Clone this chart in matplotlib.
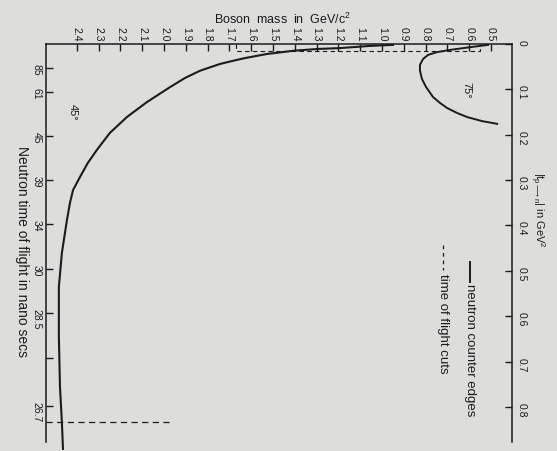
import numpy as np
import matplotlib.pyplot as plt

plt.rcParams['font.family'] = ['Liberation Sans', 'DejaVu Sans']
plt.rcParams['mathtext.fontset'] = 'custom'
plt.rcParams['mathtext.rm'] = 'Liberation Sans'
plt.rcParams['mathtext.it'] = 'Liberation Sans'

ink = '#1b1b1b'

# neutron counter edges: boson mass (GeV/c^2) vs |t| (GeV^2)
mass_45 = [0.95, 1.05, 1.193, 1.298, 1.408, 1.528, 1.628, 1.683, 1.743, 1.835,
           1.904, 1.972, 2.078, 2.170, 2.248, 2.307, 2.349, 2.385, 2.417, 2.431,
           2.445, 2.468, 2.482, 2.482, 2.477, 2.468, 2.463]
t_45 = [0.002, 0.004, 0.009, 0.011, 0.015, 0.022, 0.031, 0.037, 0.044, 0.059,
        0.075, 0.095, 0.128, 0.161, 0.196, 0.233, 0.262, 0.293, 0.322, 0.350,
        0.388, 0.460, 0.535, 0.645, 0.755, 0.835, 0.894]

mass_75 = [0.514, 0.596, 0.688, 0.748, 0.789, 0.812, 0.826, 0.826, 0.817, 0.798,
           0.766, 0.734, 0.702, 0.656, 0.610, 0.541, 0.472]
t_75 = [0.002, 0.007, 0.013, 0.018, 0.024, 0.033, 0.046, 0.059, 0.077, 0.095,
        0.117, 0.130, 0.141, 0.152, 0.161, 0.170, 0.176]

# time of flight cuts
cut_lo_mass = [1.67, 1.67, 0.55, 0.55]
cut_lo_t = [0.0, 0.0165, 0.0165, 0.0]
cut_hi_mass = [2.54, 1.97]
cut_hi_t = [0.833, 0.833]

# axis ticks
mass_ticks = np.round(np.arange(0.5, 2.41, 0.1), 1)
t_ticks = [0, 0.1, 0.2, 0.3, 0.4, 0.5, 0.6, 0.7, 0.8]
t_labels = ['0', '0.1', '0.2', '0.3', '0.4', '0.5', '0.6', '0.7', '0.8']
tof_t = [0.053, 0.105, 0.203, 0.300, 0.397, 0.496, 0.594, 0.692, 0.797]
tof_labels = ['85', '61', '45', '39', '34', '30', '28.5', '', '26.7']

W, H = 557, 451


def px(x, y):
    return x / W, 1 - y / H


fig = plt.figure(figsize=(W / 100, H / 100), dpi=100)
fig.patch.set_facecolor('#dddddc')
ax = fig.add_axes([46 / W, 1 - 450 / H, 466 / W, 406 / H])
ax.set_facecolor('none')
ax.set_xlim(2.541, 0.404)
ax.set_ylim(0.895, 0)

ax.plot(mass_45, t_45, color=ink, lw=1.5, solid_joinstyle='round')
ax.plot(mass_75, t_75, color=ink, lw=1.4, solid_joinstyle='round')
ax.plot(cut_lo_mass, cut_lo_t, color=ink, lw=0.8, ls=(0, (4, 3)))
ax.plot(cut_hi_mass, cut_hi_t, color=ink, lw=0.9, ls=(0, (5, 3.5)))

for s in ['top', 'left', 'right']:
    ax.spines[s].set_color(ink)
    ax.spines[s].set_linewidth(1.1)
ax.spines['bottom'].set_visible(False)
ax.spines['left'].set_bounds(0, 0.877)
ax.spines['right'].set_bounds(0, 0.877)

ax.xaxis.set_ticks_position('top')
ax.set_xticks(mass_ticks, labels=[f'{m:.1f}' for m in mass_ticks])
ax.tick_params(axis='x', direction='in', length=5, width=1, pad=2,
               labelsize=7.5, labelrotation=-90, colors=ink)

ax.yaxis.set_ticks_position('right')
ax.set_yticks(t_ticks, labels=t_labels)
ax.tick_params(axis='y', direction='in', length=5, width=1, pad=3,
               labelsize=7.5, labelrotation=-90, colors=ink)

tof = ax.secondary_yaxis('left')
tof.set_yticks(tof_t, labels=tof_labels)
tof.tick_params(direction='in', length=5, width=1, pad=3,
                labelsize=7.5, labelrotation=-90, colors=ink)
tof.spines['left'].set_visible(False)

ax.text(2.42, 0.15, '45°', rotation=-90, ha='center', va='center',
        fontsize=8, color=ink)
ax.text(0.615, 0.103, '75°', rotation=-90, ha='center', va='center',
        fontsize=8, color=ink)

fig.text(*px(283, 19), 'Boson  mass  in  GeV/c$^2$', ha='center', va='center',
         fontsize=9, color=ink)
fig.text(*px(22, 252), 'Neutron time of flight in nano secs', rotation=-90,
         ha='center', va='center', fontsize=10, color=ink)
fig.text(*px(528, 210), r'$|t_{p\longrightarrow n}|$ in GeV$^2$', rotation=-90,
         ha='left', va='center', fontsize=8, color=ink)

# key
fig.add_artist(plt.Line2D(*zip(px(443, 245), px(443, 270)), color=ink, lw=0.9,
                          ls=(0, (3, 3)), transform=fig.transFigure))
fig.text(*px(443, 274), 'time of flight cuts', rotation=-90, ha='center',
         va='top', fontsize=9.5, color=ink)
fig.add_artist(plt.Line2D(*zip(px(470, 262), px(470, 282)), color=ink, lw=1.4,
                          transform=fig.transFigure))
fig.text(*px(470, 284), 'neutron counter edges', rotation=-90, ha='center',
         va='top', fontsize=9.5, color=ink)

fig.savefig('out.png', dpi=100, facecolor=fig.get_facecolor())
